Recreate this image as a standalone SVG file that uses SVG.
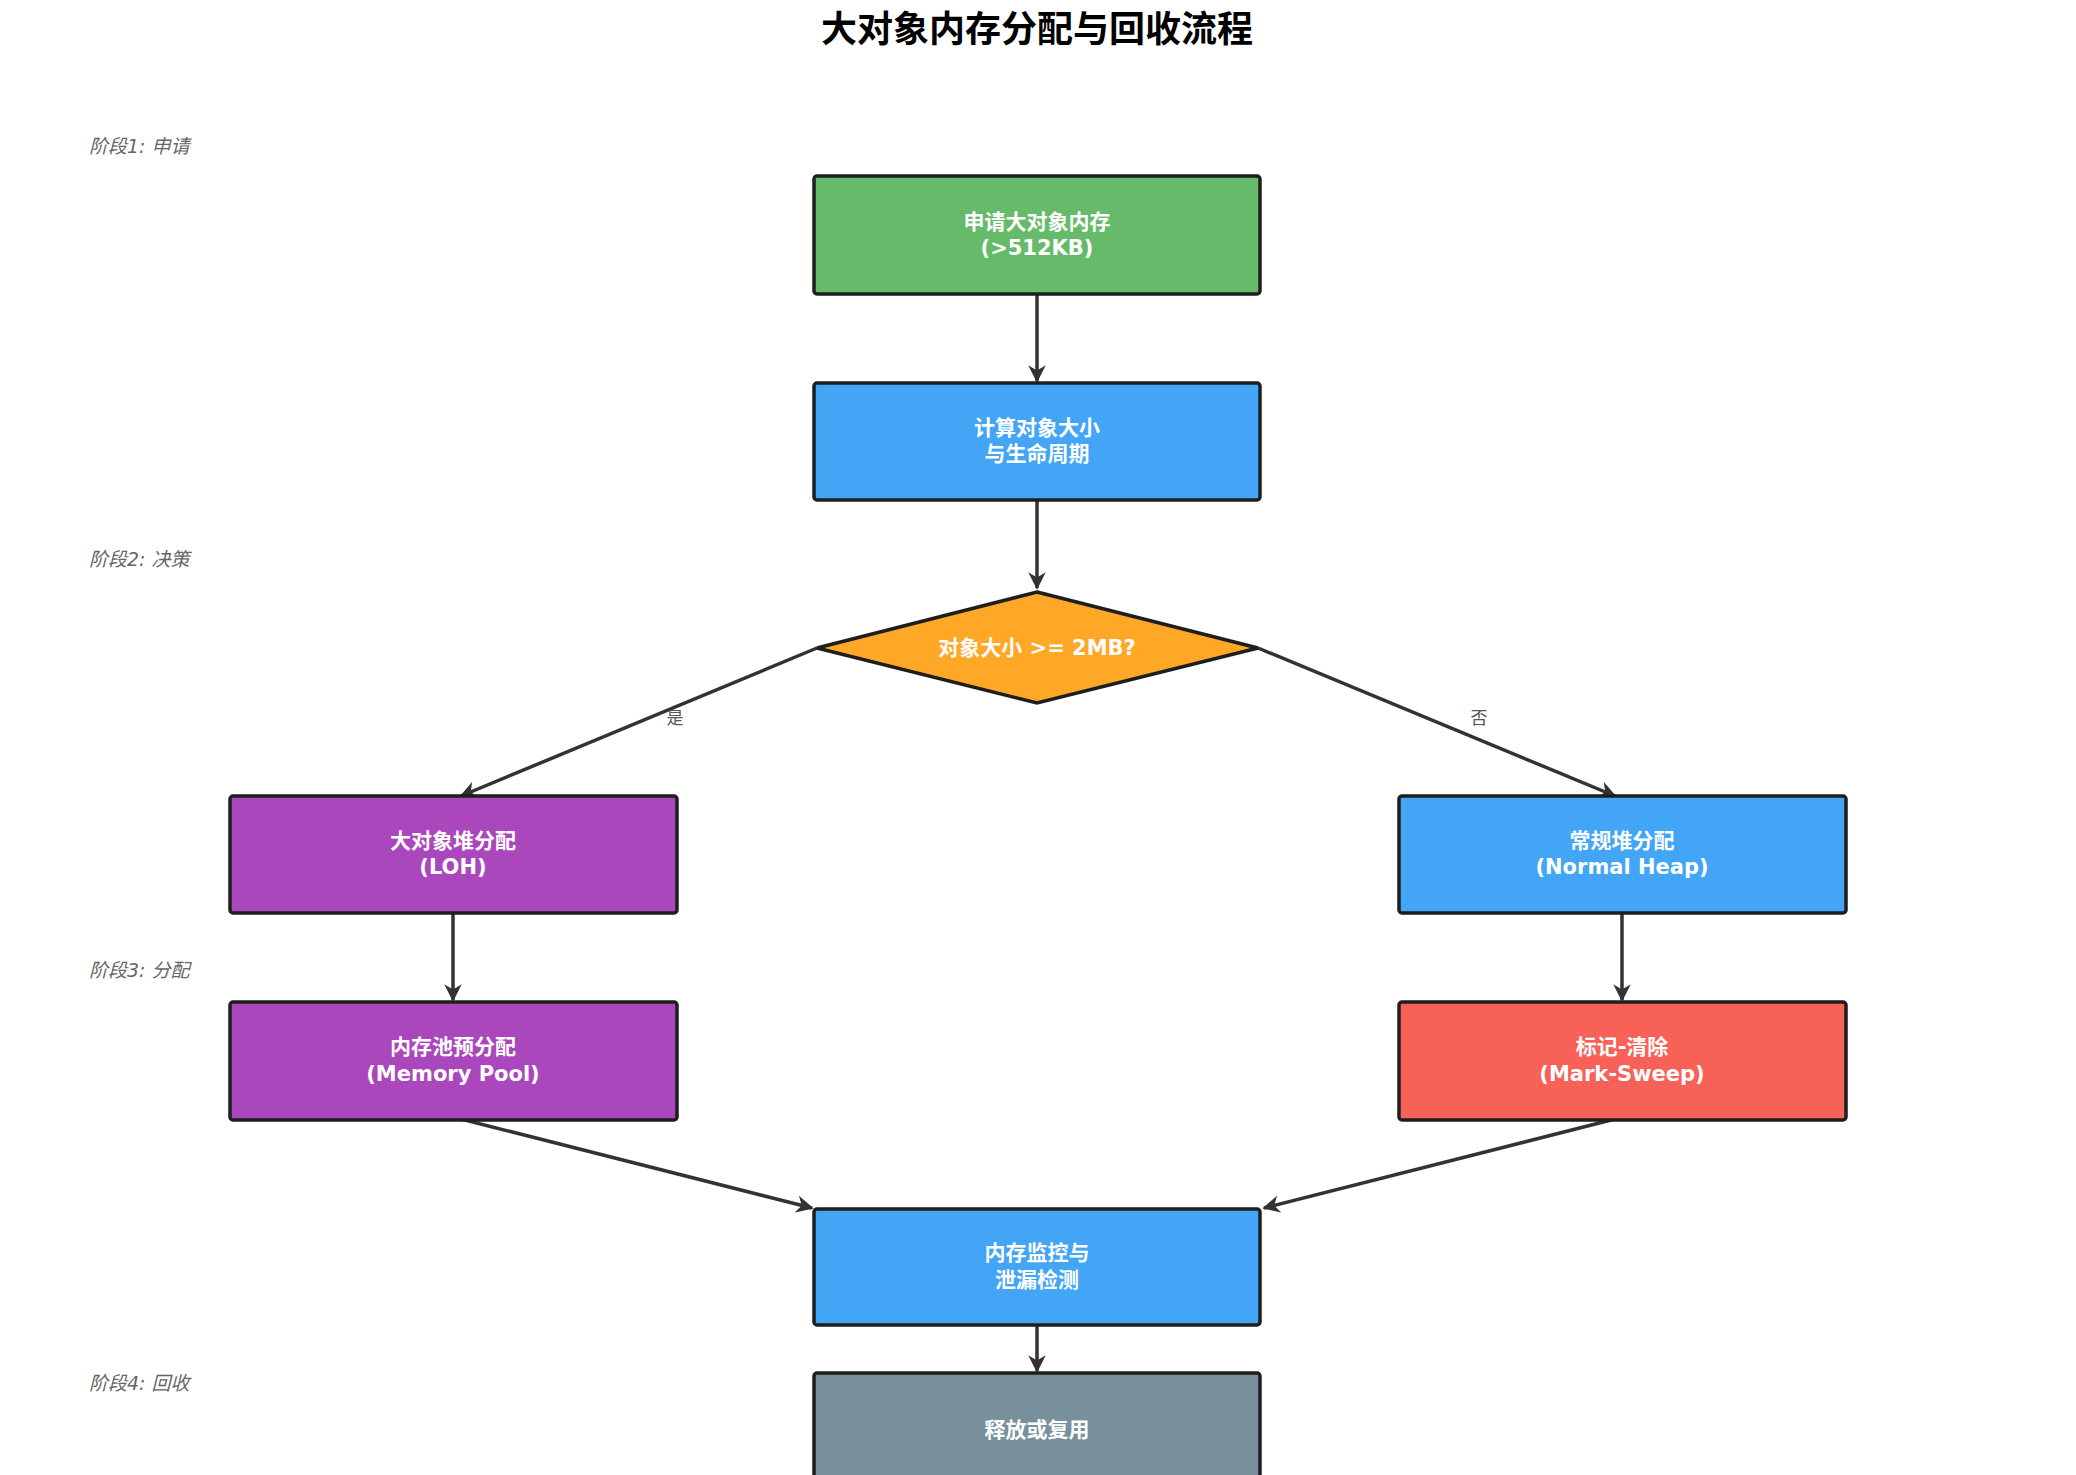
<svg xmlns="http://www.w3.org/2000/svg" width="2076" height="1475" viewBox="0 0 2076 1475">
<defs>
<marker id="ah" viewBox="0 0 10 10" refX="9" refY="5" markerWidth="5" markerHeight="5" orient="auto"><path d="M0,0 L10,5 L0,10 L3,5 z" fill="#333"/></marker>
<style>
.n{stroke:#1e1e1e;stroke-width:3.5}
.t{font-family:"DejaVu Sans","Noto Sans CJK SC",sans-serif;font-weight:bold;font-size:21px;fill:#fff;text-anchor:middle}
.c{stroke:#333;stroke-width:3.5;fill:none;marker-end:url(#ah)}
.p{font-family:"DejaVu Sans","Noto Sans CJK SC",sans-serif;font-size:19px;fill:#666;font-style:italic}
.l{font-family:"DejaVu Sans","Noto Sans CJK SC",sans-serif;font-size:17px;fill:#555;text-anchor:middle}
</style>
</defs>
<rect width="2076" height="1475" fill="#fff"/>
<text x="1037" y="42" text-anchor="middle" font-family="Noto Sans CJK SC,sans-serif" font-weight="bold" font-size="36" fill="#000">大对象内存分配与回收流程</text>
<g id="phases">
<text class="p" x="89" y="153">阶段1: 申请</text>
<text class="p" x="89" y="566">阶段2: 决策</text>
<text class="p" x="89" y="977">阶段3: 分配</text>
<text class="p" x="89" y="1390">阶段4: 回收</text>
</g>
<g id="connectors">
<line class="c" x1="1037" y1="294" x2="1037" y2="381"/>
<line class="c" x1="1037" y1="500" x2="1037" y2="588"/>
<line class="c" x1="817" y1="648" x2="461" y2="796"/>
<line class="c" x1="1258" y1="648" x2="1615" y2="796"/>
<line class="c" x1="453" y1="913" x2="453" y2="1000"/>
<line class="c" x1="1622" y1="913" x2="1622" y2="1000"/>
<line class="c" x1="457" y1="1118" x2="812" y2="1208"/>
<line class="c" x1="1619" y1="1118" x2="1264" y2="1208"/>
<line class="c" x1="1037" y1="1325" x2="1037" y2="1371"/>
<text class="l" x="675" y="724">是</text>
<text class="l" x="1479" y="724">否</text>
</g>
<g id="n1"><rect class="n" x="814" y="176" width="446" height="118" rx="3" fill="#66BB6A"/><text class="t" x="1037" y="229">申请大对象内存</text><text class="t" x="1037" y="255">(&gt;512KB)</text></g>
<g id="n2"><rect class="n" x="814" y="383" width="446" height="117" rx="3" fill="#42A5F5"/><text class="t" x="1037" y="435">计算对象大小</text><text class="t" x="1037" y="461">与生命周期</text></g>
<g id="n3"><polygon class="n" points="1037,592 1258,648 1037,703 817,648" fill="#FFA726"/><text class="t" x="1037" y="655">对象大小 &gt;= 2MB?</text></g>
<g id="n4"><rect class="n" x="230" y="796" width="447" height="117" rx="3" fill="#AB47BC"/><text class="t" x="453" y="848">大对象堆分配</text><text class="t" x="453" y="874">(LOH)</text></g>
<g id="n5"><rect class="n" x="1399" y="796" width="447" height="117" rx="3" fill="#42A5F5"/><text class="t" x="1622" y="848">常规堆分配</text><text class="t" x="1622" y="874">(Normal Heap)</text></g>
<g id="n6"><rect class="n" x="230" y="1002" width="447" height="118" rx="3" fill="#AB47BC"/><text class="t" x="453" y="1054">内存池预分配</text><text class="t" x="453" y="1081">(Memory Pool)</text></g>
<g id="n7"><rect class="n" x="1399" y="1002" width="447" height="118" rx="3" fill="#F76157"/><text class="t" x="1622" y="1054">标记-清除</text><text class="t" x="1622" y="1081">(Mark-Sweep)</text></g>
<g id="n8"><rect class="n" x="814" y="1209" width="446" height="116" rx="3" fill="#42A5F5"/><text class="t" x="1037" y="1260">内存监控与</text><text class="t" x="1037" y="1287">泄漏检测</text></g>
<g id="n9"><rect class="n" x="814" y="1373" width="446" height="117" rx="3" fill="#78909C"/><text class="t" x="1037" y="1437">释放或复用</text></g>
</svg>
